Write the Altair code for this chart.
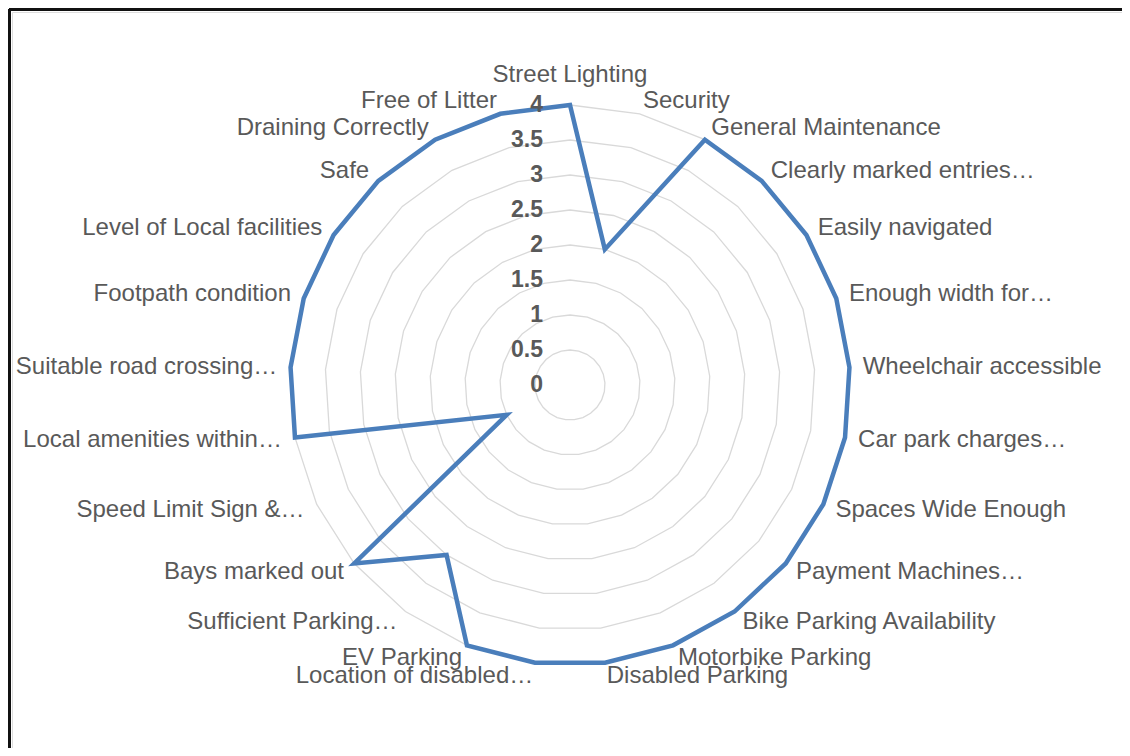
import altair as alt
import pandas as pd

categories = [
    "Street Lighting", "Security", "General Maintenance", "Clearly marked entries…",
    "Easily navigated", "Enough width for…", "Wheelchair accessible", "Car park charges…",
    "Spaces Wide Enough", "Payment Machines…", "Bike Parking Availability",
    "Motorbike Parking", "Disabled Parking", "Location of disabled…", "EV Parking",
    "Sufficient Parking…", "Bays marked out", "Speed Limit Sign &…",
    "Local amenities within…", "Suitable road crossing…", "Footpath condition",
    "Level of Local facilities", "Safe", "Draining Correctly", "Free of Litter",
]
values = [4, 2, 4, 4, 4, 4, 4, 4, 4, 4, 4, 4, 4, 4, 4, 3, 4, 1, 4, 4, 4, 4, 4, 4, 4]
levels = [0.5, 1, 1.5, 2, 2.5, 3, 3.5, 4]
tick_labels = ["0", "0.5", "1", "1.5", "2", "2.5", "3", "3.5", "4"]

N = len(categories)
LABEL_R = 4.19

series_df = pd.DataFrame({"idx": list(range(N)), "cat": categories, "v": values})
grid_df = pd.DataFrame([{"idx": i, "lvl": l} for l in levels for i in range(N)])
tick_df = pd.DataFrame({"t": tick_labels, "lvl": [float(t) for t in tick_labels]})

ang = f"datum.idx * 2 * PI / {N}"

PAD = 4
W = 1114 - PAD
H = 740 - PAD
CX = 570 - 8 - PAD
CY = 385 - 8 - PAD
PX = 70.0

xs = alt.Scale(domain=[-CX / PX, (W - CX) / PX], nice=False, zero=False)
ys = alt.Scale(domain=[-(H - CY) / PX, CY / PX], nice=False, zero=False)

FONT = "Liberation Sans"
TXT = "#595959"

grid = alt.Chart(grid_df).transform_calculate(
    a=ang
).transform_calculate(
    x="datum.lvl * sin(datum.a)", y="datum.lvl * cos(datum.a)"
).mark_line(interpolate="linear-closed", color="#D9D9D9", strokeWidth=1.3).encode(
    x=alt.X("x:Q", scale=xs, axis=None),
    y=alt.Y("y:Q", scale=ys, axis=None),
    detail="lvl:N",
    order="idx:Q",
)

line = alt.Chart(series_df).transform_calculate(
    a=ang
).transform_calculate(
    x="datum.v * sin(datum.a)", y="datum.v * cos(datum.a)"
).mark_line(interpolate="linear-closed", color="#4A7EBB", strokeWidth=4.5).encode(
    x=alt.X("x:Q", scale=xs, axis=None),
    y=alt.Y("y:Q", scale=ys, axis=None),
    order="idx:Q",
)

lab_base = alt.Chart(series_df).transform_calculate(
    a=ang
).transform_calculate(
    x=f"{LABEL_R} * sin(datum.a)", y=f"{LABEL_R} * cos(datum.a)", s="sin(datum.a)"
)
enc = dict(
    x=alt.X("x:Q", scale=xs, axis=None),
    y=alt.Y("y:Q", scale=ys, axis=None),
    text="cat:N",
)
lab_top = lab_base.transform_filter("datum.idx == 0").mark_text(
    align="center", baseline="bottom", dy=-5, font=FONT, fontSize=24, color=TXT
).encode(**enc)
lab_right = lab_base.transform_filter("datum.idx > 0 && datum.s > 0").mark_text(
    align="left", baseline="middle", font=FONT, fontSize=24, color=TXT
).encode(**enc)
lab_left = lab_base.transform_filter("datum.s < 0").mark_text(
    align="right", baseline="middle", font=FONT, fontSize=24, color=TXT
).encode(**enc)

ticks = alt.Chart(tick_df).transform_calculate(x="0").mark_text(
    align="right", baseline="middle", dx=-27, font=FONT, fontSize=23,
    fontWeight="bold", color=TXT
).encode(
    x=alt.X("x:Q", scale=xs, axis=None),
    y=alt.Y("lvl:Q", scale=ys, axis=None),
    text="t:N",
)

frame_left = alt.Chart(series_df).mark_rule(color="#111111", strokeWidth=2.5).encode(
    x=alt.value(-3), y=alt.value(-3), y2=alt.value(H)
)
frame_top = alt.Chart(series_df).mark_rule(color="#111111", strokeWidth=2.5).encode(
    x=alt.value(-3), x2=alt.value(W), y=alt.value(-3)
)

chart = alt.layer(grid, line, ticks, lab_top, lab_right, lab_left, frame_left, frame_top).properties(
    width=W, height=H, padding={"left": PAD, "top": PAD, "right": 0, "bottom": 0},
    autosize="none"
).configure_view(stroke=None).configure(background="white")

chart.save("out.html", embed_options={"renderer": "svg", "actions": False})
